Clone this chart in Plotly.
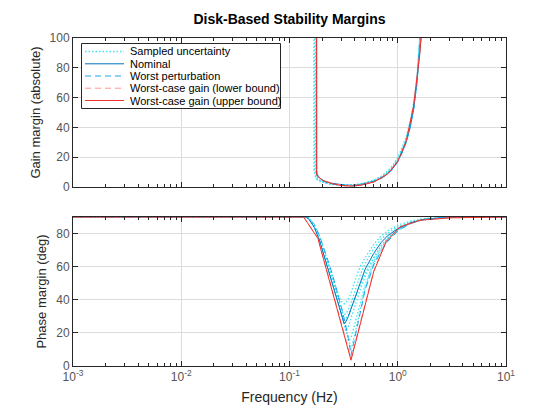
import plotly.graph_objects as go
from plotly.subplots import make_subplots

# ---------------- Gain margin data (top) ----------------
gm_freq = [0.160, 0.165, 0.168, 0.171, 0.174, 0.176, 0.178, 0.18, 0.19, 0.21, 0.24, 0.28, 0.33, 0.38,
           0.45, 0.52, 0.6, 0.7, 0.8, 0.9, 1.0, 1.1, 1.2, 1.3, 1.4, 1.5, 1.6, 1.7, 1.8, 2.0]
gm_nominal = [1000, 1000, 1000, 1000, 1000, 1000, 11, 8.5, 6, 4, 2.6, 1.7, 1.2, 1.1,
              1.6, 2.6, 3.8, 6, 8.8, 12.5, 17.5, 23.5, 30.5, 40, 52, 70, 88, 106, 130, 200]
gm_worst = [1000, 1000, 1000, 1000, 1000, 1000, 10, 8, 5.5, 3.6, 2.2, 1.3, 0.8, 0.7,
            1.2, 2.2, 3.4, 5.6, 8.4, 12, 17, 23, 30, 39.5, 51.5, 69, 87, 104, 128, 195]
gm_samples = [
    [1000, 1000, 12, 8, 6.5, 5.8, 5.2, 4.8, 4, 3, 2.2, 1.6, 1.4, 1.4, 2, 3.3, 4.6, 7.2, 10.5, 14.5, 20, 26.5, 34, 44, 56, 72, 92, 112, 140, 210],
    [1000, 1000, 1000, 11, 7.5, 6.5, 5.8, 5.2, 4.2, 3, 2, 1.4, 1.2, 1.3, 1.9, 3, 4.3, 6.8, 10, 13.8, 19, 25.5, 33, 43, 55, 70, 90, 110, 138, 205],
    [1000, 1000, 1000, 1000, 10, 7.5, 6.5, 5.5, 4.3, 2.8, 1.8, 1.3, 1.2, 1.2, 1.8, 2.9, 4.1, 6.4, 9.4, 13.2, 18.5, 24.5, 32, 41.5, 54, 69, 88, 108, 135, 200],
    [1000, 1000, 1000, 1000, 1000, 11, 8.5, 7, 4.6, 3, 1.9, 1.3, 1.2, 1.2, 1.7, 2.7, 3.9, 6.2, 9, 12.8, 18, 24, 31.5, 41, 53, 68, 87, 107, 133, 200],
]
gm_wc_freq = [0.1775, 0.178, 0.2, 0.25, 0.3, 0.37, 0.45, 0.6, 0.8, 1.0, 1.2, 1.4, 1.6, 1.7]
gm_wc_upper = [1000, 8, 4.5, 2.2, 1.0, 0.6, 1.1, 3.3, 8.5, 17, 31, 54, 90, 115]
gm_wc_lower = [1000, 8.3, 4.7, 2.4, 1.2, 0.8, 1.3, 3.5, 8.8, 17.5, 31.5, 55, 91, 116]

# ---------------- Phase margin data (bottom) ----------------
pm_freq = [0.001, 0.13, 0.14, 0.15, 0.17, 0.19, 0.21, 0.23, 0.25, 0.27, 0.29, 0.31, 0.32, 0.33,
           0.35, 0.37, 0.40, 0.45, 0.5, 0.6, 0.7, 0.8, 1.0, 1.3, 1.7, 2.5, 4, 10]
pm_nominal = [90, 90, 90, 89, 83.5, 75.5, 66, 57, 49, 41.5, 34.5, 27.5, 25.5, 26.5,
              30, 34.5, 41, 51, 58.5, 68, 74.5, 78.5, 83, 86.5, 88.5, 89.5, 90, 90]
pm_worst = [90, 90, 90, 89.5, 85.5, 78.5, 70.5, 62.5, 55, 47.5, 40, 32.5, 28.5, 25,
            16.5, 6.5, 16, 32, 46, 61, 69, 75, 81.5, 86, 88.3, 89.5, 90, 90]
pm_samples = [
    [90, 90, 90, 89.5, 84.5, 77, 68.5, 60, 52.5, 46, 41, 38, 37.5, 38, 40.5, 44, 51, 60, 65.5, 73.5, 78.5, 81.5, 85, 87.5, 89, 89.7, 90, 90],
    [90, 90, 90, 89.5, 84.5, 76.5, 67.5, 58.5, 50.5, 43, 36, 30, 28, 28.5, 31, 34.5, 40, 49, 56, 65.5, 72.5, 77, 82.5, 86.3, 88.4, 89.5, 90, 90],
    [90, 90, 90, 89.5, 84, 76.5, 67.5, 58.5, 50.5, 43, 36.5, 32, 31, 31.5, 34, 38, 45, 55, 62, 71, 76.5, 80, 84, 87, 88.8, 89.6, 90, 90],
    [90, 90, 90, 89.5, 84, 77, 68, 59.5, 51.5, 44, 36.5, 29, 25, 21, 24, 29, 36, 46, 54, 65, 72.5, 77, 82.5, 86.3, 88.4, 89.5, 90, 90],
    [90, 90, 90, 89.5, 84.5, 77.5, 69, 60.5, 53, 45.5, 38, 31, 27.5, 24, 15, 17, 25, 38, 49, 63, 71, 76.5, 82.5, 86.2, 88.4, 89.5, 90, 90],
    [90, 90, 90, 89.5, 85, 78, 70, 61.5, 54, 46.5, 39, 32, 28, 24.5, 17, 10, 19, 34, 47, 62, 70, 75.5, 82, 86, 88.3, 89.5, 90, 90],
]
pm_wc_freq = [0.001, 0.135, 0.183, 0.37, 0.6, 0.78, 1.05, 1.6, 3.0, 10]
pm_wc_upper = [90, 90, 77, 3.5, 57, 75, 84, 88, 89.5, 90]
pm_wc_lower = [90, 90, 77.5, 4.5, 57.5, 75.5, 84.2, 88.1, 89.5, 90]

x_tickvals = [0.001, 0.01, 0.1, 1, 10]
x_ticktext = ["10<sup>-3</sup>", "10<sup>-2</sup>", "10<sup>-1</sup>", "10<sup>0</sup>", "10<sup>1</sup>"]

legend_names = ["Sampled uncertainty", "Nominal", "Worst perturbation",
                "Worst-case gain (lower bound)", "Worst-case gain (upper bound)"]

# ---------------- styles ----------------
C_SAMPLE = "#3EE4F2"
C_NOM = "#0072BD"
C_WORST = "#1EA5EC"
C_LOW = "#FF9494"
C_UP = "#F0302A"
AX = "#262626"
TICK = "#555555"
FONT = "Liberation Sans, Arial, sans-serif"
DOT = "1.5px,2px"
DASH = "6px,4px"
styles = [(C_SAMPLE, DOT, 1.3), (C_NOM, "solid", 1), (C_WORST, DASH, 1), (C_LOW, DASH, 1), (C_UP, "solid", 1)]

# geometry in screen pixels; the page body adds an 8px offset
W, H = 560, 420
OFF = 8
L, R, T, B = 73, 506, 38, 366     # plot area in screen pixels

fig = make_subplots(rows=2, cols=1, vertical_spacing=(217 - 187) / (B - T))

def add_set(row, f, samples, nom, worst, wf, low, up):
    for s in samples:
        fig.add_trace(go.Scatter(x=f, y=s, mode="lines", name=legend_names[0],
                                 line=dict(color=C_SAMPLE, width=1.3, dash=DOT), showlegend=False), row=row, col=1)
    fig.add_trace(go.Scatter(x=f, y=nom, mode="lines", name=legend_names[1],
                             line=dict(color=C_NOM, width=1), showlegend=False), row=row, col=1)
    fig.add_trace(go.Scatter(x=f, y=worst, mode="lines", name=legend_names[2],
                             line=dict(color=C_WORST, width=1, dash=DASH), showlegend=False), row=row, col=1)
    fig.add_trace(go.Scatter(x=wf, y=low, mode="lines", name=legend_names[3],
                             line=dict(color=C_LOW, width=1, dash=DASH), showlegend=False), row=row, col=1)
    fig.add_trace(go.Scatter(x=wf, y=up, mode="lines", name=legend_names[4],
                             line=dict(color=C_UP, width=1), showlegend=False), row=row, col=1)

add_set(1, gm_freq, gm_samples, gm_nominal, gm_worst, gm_wc_freq, gm_wc_lower, gm_wc_upper)
add_set(2, pm_freq, pm_samples, pm_nominal, pm_worst, pm_wc_freq, pm_wc_lower, pm_wc_upper)

xcommon = dict(type="log", range=[-3, 1], showline=True, linecolor=AX, linewidth=1, mirror="ticks",
               ticks="inside", ticklen=5, tickcolor=AX, showgrid=True, gridcolor="#DCDCDC", gridwidth=1,
               tickvals=x_tickvals, zeroline=False,
               minor=dict(ticks="inside", ticklen=3, tickcolor=AX, dtick="D1", showgrid=False),
               tickfont=dict(family=FONT, size=12, color=TICK))
fig.update_xaxes(**xcommon)
fig.update_xaxes(showticklabels=False, row=1, col=1)
fig.update_xaxes(ticktext=x_ticktext, row=2, col=1,
                 title=dict(text="Frequency (Hz)", font=dict(family=FONT, size=14, color=AX), standoff=8))

ycommon = dict(showline=True, linecolor=AX, linewidth=1, mirror="ticks", ticks="inside", ticklen=5,
               tickcolor=AX, showgrid=True, gridcolor="#DCDCDC", zeroline=False,
               tickfont=dict(family=FONT, size=12, color=TICK))
fig.update_yaxes(**ycommon)
fig.update_yaxes(range=[0, 100], dtick=20, row=1, col=1,
                 title=dict(text="Gain margin (absolute)", font=dict(family=FONT, size=13, color=AX), standoff=6))
fig.update_yaxes(range=[0, 90], tickvals=[0, 20, 40, 60, 80], row=2, col=1,
                 title=dict(text="Phase margin (deg)", font=dict(family=FONT, size=13, color=AX), standoff=6))

# ---------------- legend box (drawn in paper coordinates) ----------------
def px(xp):
    return (xp - L) / (R - L)

def py(yp):
    return (B - yp) / (B - T)

shapes = [dict(type="rect", xref="paper", yref="paper", x0=px(81.5), x1=px(280.5), y0=py(108.5), y1=py(43.5),
               line=dict(color=AX, width=1), fillcolor="white", layer="above")]
annotations = []
row_y = [51.5, 63.8, 76.0, 88.2, 100.5]
for name, (col, dash, lw), yy in zip(legend_names, styles, row_y):
    shapes.append(dict(type="line", xref="paper", yref="paper", x0=px(85), x1=px(124), y0=py(yy), y1=py(yy),
                       line=dict(color=col, width=lw, dash=dash), layer="above"))
    annotations.append(dict(text=name, xref="paper", yref="paper", x=px(128), y=py(yy), xanchor="left",
                            yanchor="middle", showarrow=False, font=dict(family=FONT, size=11, color="black")))

fig.update_layout(
    width=W, height=H,
    margin=dict(l=L - OFF, r=W - R + OFF, t=T - OFF, b=H - B + OFF),
    paper_bgcolor="white", plot_bgcolor="white",
    title=dict(text="<b>Disk-Based Stability Margins</b>", x=((L + R) / 2 - OFF) / W, xanchor="center",
               y=1 - (19 - OFF) / H, yanchor="middle", font=dict(family=FONT, size=14, color="black")),
    showlegend=False,
    shapes=shapes,
    annotations=annotations,
)

fig.write_html("out.html")
